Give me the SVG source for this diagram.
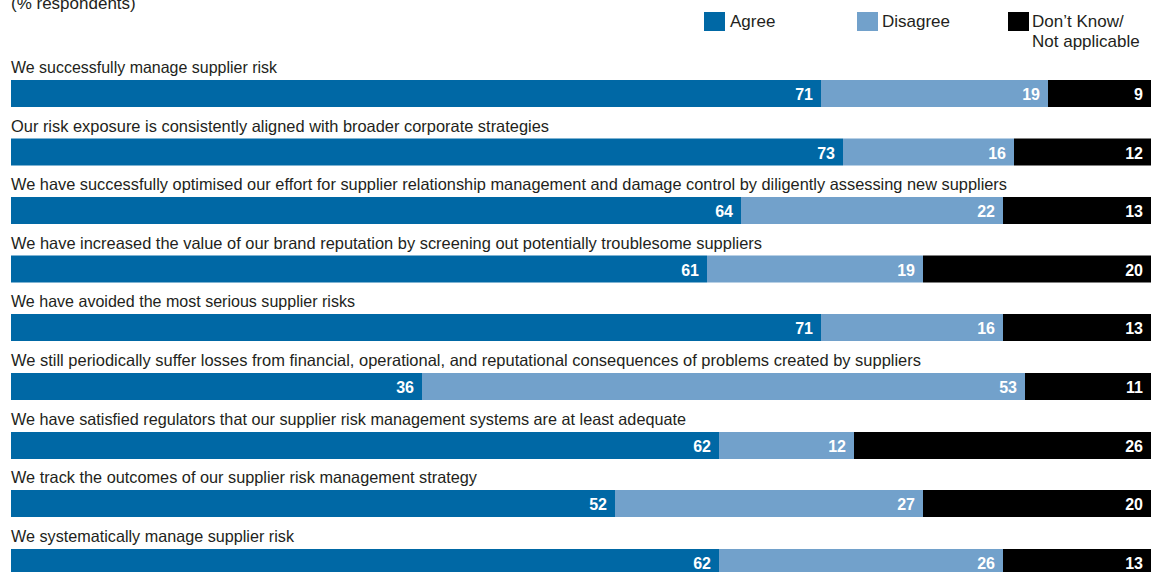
<svg xmlns="http://www.w3.org/2000/svg" width="1162" height="572" viewBox="0 0 1162 572">
<style>
.lbl{font-family:"Liberation Sans",Arial,sans-serif;font-size:16.5px;fill:#231f20}
.leg{font-family:"Liberation Sans",Arial,sans-serif;font-size:17px;fill:#231f20}
.val{font-family:"Liberation Sans",Arial,sans-serif;font-size:16px;font-weight:bold;fill:#ffffff;text-anchor:end}
.a{fill:#0068a5}
.d{fill:#72a1cb}
.k{fill:#000000}
</style>
<rect width="1162" height="572" fill="#ffffff"/>
<text class="leg" x="11" y="9">(% respondents)</text>
<g id="legend">
<rect class="a" x="704" y="12" width="21" height="19"/>
<text class="leg" x="730" y="27">Agree</text>
<rect class="d" x="857" y="12" width="21" height="19"/>
<text class="leg" x="882" y="27">Disagree</text>
<rect class="k" x="1008" y="12" width="21" height="19"/>
<text class="leg" x="1032" y="27">Don’t Know/</text>
<text class="leg" x="1032" y="47">Not applicable</text>
</g>
<g id="row1">
<text class="lbl" x="11" y="73" textLength="266" lengthAdjust="spacingAndGlyphs">We successfully manage supplier risk</text>
<rect class="a" x="11" y="80" width="810" height="27"/>
<rect class="d" x="821" y="80" width="227" height="27"/>
<rect class="k" x="1048" y="80" width="103" height="27"/>
<text class="val" x="813" y="100">71</text>
<text class="val" x="1040" y="100">19</text>
<text class="val" x="1143" y="100">9</text>
</g>
<g id="row2">
<text class="lbl" x="11" y="131.5" textLength="538" lengthAdjust="spacingAndGlyphs">Our risk exposure is consistently aligned with broader corporate strategies</text>
<rect class="a" x="11" y="138.5" width="832" height="27"/>
<rect class="d" x="843" y="138.5" width="171" height="27"/>
<rect class="k" x="1014" y="138.5" width="137" height="27"/>
<text class="val" x="835" y="158.5">73</text>
<text class="val" x="1006" y="158.5">16</text>
<text class="val" x="1143" y="158.5">12</text>
</g>
<g id="row3">
<text class="lbl" x="11" y="190" textLength="996" lengthAdjust="spacingAndGlyphs">We have successfully optimised our effort for supplier relationship management and damage control by diligently assessing new suppliers</text>
<rect class="a" x="11" y="197" width="730" height="27"/>
<rect class="d" x="741" y="197" width="262" height="27"/>
<rect class="k" x="1003" y="197" width="148" height="27"/>
<text class="val" x="733" y="217">64</text>
<text class="val" x="995" y="217">22</text>
<text class="val" x="1143" y="217">13</text>
</g>
<g id="row4">
<text class="lbl" x="11" y="248.5" textLength="751" lengthAdjust="spacingAndGlyphs">We have increased the value of our brand reputation by screening out potentially troublesome suppliers</text>
<rect class="a" x="11" y="255.5" width="696" height="27"/>
<rect class="d" x="707" y="255.5" width="216" height="27"/>
<rect class="k" x="923" y="255.5" width="228" height="27"/>
<text class="val" x="699" y="275.5">61</text>
<text class="val" x="915" y="275.5">19</text>
<text class="val" x="1143" y="275.5">20</text>
</g>
<g id="row5">
<text class="lbl" x="11" y="307" textLength="344" lengthAdjust="spacingAndGlyphs">We have avoided the most serious supplier risks</text>
<rect class="a" x="11" y="314" width="810" height="27"/>
<rect class="d" x="821" y="314" width="182" height="27"/>
<rect class="k" x="1003" y="314" width="148" height="27"/>
<text class="val" x="813" y="334">71</text>
<text class="val" x="995" y="334">16</text>
<text class="val" x="1143" y="334">13</text>
</g>
<g id="row6">
<text class="lbl" x="11" y="366" textLength="910" lengthAdjust="spacingAndGlyphs">We still periodically suffer losses from financial, operational, and reputational consequences of problems created by suppliers</text>
<rect class="a" x="11" y="373" width="411" height="27"/>
<rect class="d" x="422" y="373" width="603" height="27"/>
<rect class="k" x="1025" y="373" width="126" height="27"/>
<text class="val" x="414" y="393">36</text>
<text class="val" x="1017" y="393">53</text>
<text class="val" x="1143" y="393">11</text>
</g>
<g id="row7">
<text class="lbl" x="11" y="425" textLength="675" lengthAdjust="spacingAndGlyphs">We have satisfied regulators that our supplier risk management systems are at least adequate</text>
<rect class="a" x="11" y="432" width="708" height="27"/>
<rect class="d" x="719" y="432" width="135" height="27"/>
<rect class="k" x="854" y="432" width="297" height="27"/>
<text class="val" x="711" y="452">62</text>
<text class="val" x="846" y="452">12</text>
<text class="val" x="1143" y="452">26</text>
</g>
<g id="row8">
<text class="lbl" x="11" y="483" textLength="466" lengthAdjust="spacingAndGlyphs">We track the outcomes of our supplier risk management strategy</text>
<rect class="a" x="11" y="490" width="604" height="27"/>
<rect class="d" x="615" y="490" width="308" height="27"/>
<rect class="k" x="923" y="490" width="228" height="27"/>
<text class="val" x="607" y="510">52</text>
<text class="val" x="915" y="510">27</text>
<text class="val" x="1143" y="510">20</text>
</g>
<g id="row9">
<text class="lbl" x="11" y="542" textLength="283" lengthAdjust="spacingAndGlyphs">We systematically manage supplier risk</text>
<rect class="a" x="11" y="549" width="708" height="27"/>
<rect class="d" x="719" y="549" width="284" height="27"/>
<rect class="k" x="1003" y="549" width="148" height="27"/>
<text class="val" x="711" y="569">62</text>
<text class="val" x="995" y="569">26</text>
<text class="val" x="1143" y="569">13</text>
</g>
<g id="connectors"></g>
</svg>
